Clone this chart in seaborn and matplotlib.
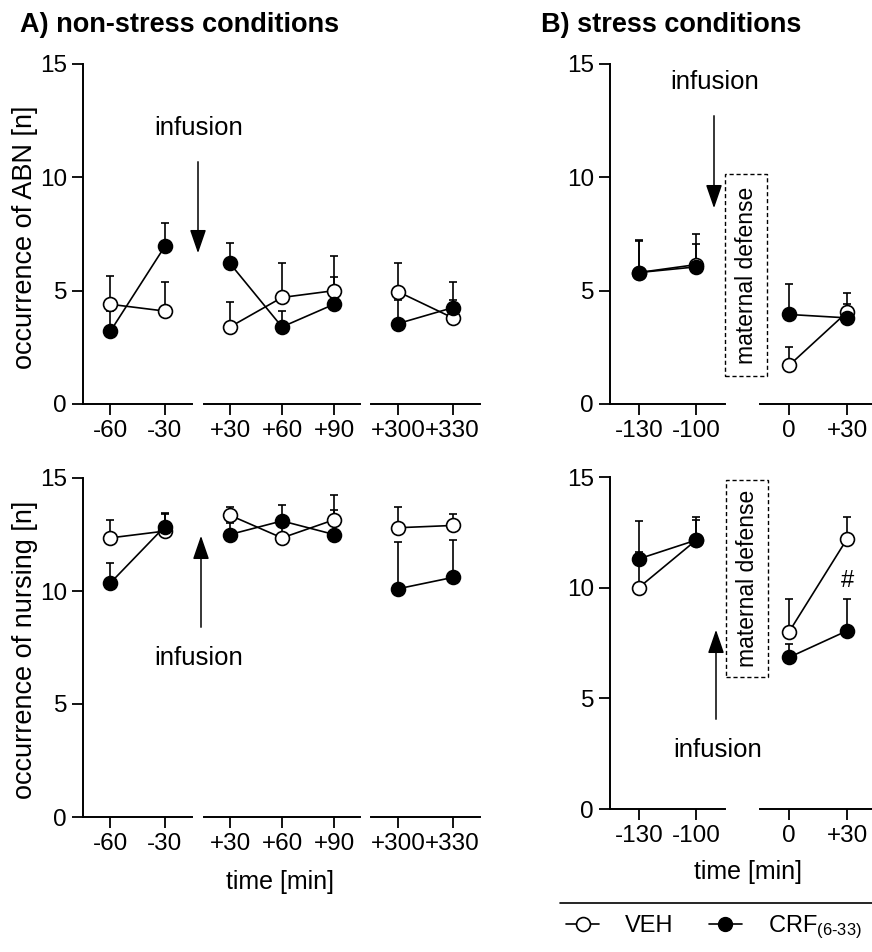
import numpy as np
import pandas as pd
import matplotlib.pyplot as plt
import seaborn as sns
from matplotlib.lines import Line2D
from matplotlib.patches import FancyArrowPatch, Rectangle

plt.switch_backend("Agg")

# --- data ---
a_times = [-60, -30, 30, 60, 90, 300, 330]
a_labels = ["-60", "-30", "+30", "+60", "+90", "+300", "+330"]

abn_a_veh = [4.4, 4.1, 3.4, 4.7, 5.0, 4.95, 3.8]
abn_a_veh_sem = [1.25, 1.3, 1.1, 1.5, 1.55, 1.25, 0.8]
abn_a_crf = [3.2, 6.95, 6.2, 3.4, 4.4, 3.55, 4.25]
abn_a_crf_sem = [0.9, 1.05, 0.9, 0.7, 1.2, 1.05, 1.15]

nurs_a_veh = [12.35, 12.65, 13.35, 12.35, 13.15, 12.8, 12.9]
nurs_a_veh_sem = [0.8, 0.8, 0.35, 0.5, 1.1, 0.9, 0.5]
nurs_a_crf = [10.35, 12.85, 12.5, 13.1, 12.5, 10.1, 10.6]
nurs_a_crf_sem = [0.9, 0.55, 0.5, 0.7, 1.1, 2.05, 1.65]

b_times = [-130, -100, 0, 30]
b_labels = ["-130", "-100", "0", "+30"]

abn_b_veh = [5.8, 6.15, 1.7, 4.05]
abn_b_veh_sem = [1.45, 1.35, 0.8, 0.85]
abn_b_crf = [5.8, 6.05, 3.95, 3.8]
abn_b_crf_sem = [1.4, 1.0, 1.35, 0.6]

nurs_b_veh = [10.0, 12.15, 8.0, 12.2]
nurs_b_veh_sem = [1.6, 1.05, 1.5, 1.0]
nurs_b_crf = [11.3, 12.15, 6.85, 8.05]
nurs_b_crf_sem = [1.7, 0.9, 0.6, 1.45]

sns.set_style("ticks")
plt.rcParams["font.family"] = ["Liberation Sans", "DejaVu Sans"]
plt.rcParams["mathtext.fontset"] = "custom"
plt.rcParams["mathtext.rm"] = "Liberation Sans"
plt.rcParams["mathtext.it"] = "Liberation Sans"
plt.rcParams["text.color"] = "black"
plt.rcParams["axes.labelcolor"] = "black"

W, H = 872, 952
fig = plt.figure(figsize=(W / 100, H / 100), dpi=100)

def fx(x):
    return x / W

def fy(y):
    return 1 - y / H

def make_axes(x0, x1, ytop, ybot, xlim, first):
    ax = fig.add_axes([fx(x0), fy(ybot), fx(x1 - x0), (ybot - ytop) / H])
    ax.set_xlim(*xlim)
    ax.set_ylim(0, 15)
    sns.despine(ax=ax, left=not first)
    for s in ax.spines.values():
        s.set_linewidth(1.4)
        s.set_color("black")
    ax.tick_params(direction="out", length=8, width=1.3, labelsize=17.5, colors="black")
    if first:
        ax.set_yticks([0, 5, 10, 15])
    else:
        ax.set_yticks([])
    ax.patch.set_alpha(0)
    return ax

def draw(ax, times, labels, veh, veh_sem, crf, crf_sem):
    lo, hi = ax.get_xlim()
    idx = [i for i, t in enumerate(times) if lo < t < hi]
    t = [times[i] for i in idx]
    ax.set_xticks(t)
    ax.set_xticklabels([labels[i] for i in idx])
    for vals, sems in [(veh, veh_sem), (crf, crf_sem)]:
        y = [vals[i] for i in idx]
        e = [sems[i] for i in idx]
        ax.errorbar(t, y, yerr=[np.zeros(len(e)), e], fmt="none", ecolor="black",
                    elinewidth=1.2, capsize=3, capthick=1.2, zorder=1)
    for vals, face, z in [(veh, "white", 3), (crf, "black", 4)]:
        df = pd.DataFrame({"time": t, "value": [vals[i] for i in idx]})
        sns.lineplot(data=df, x="time", y="value", ax=ax, color="black", linewidth=1.2,
                     marker="o", markersize=10, markerfacecolor=face,
                     markeredgecolor="black", markeredgewidth=1.2, zorder=z)
    ax.set_xlabel("")
    ax.set_ylabel("")

a_segs = [((-75, -15), 83, 192), ((15, 105), 204, 360), ((285, 345), 371, 480)]
b_segs = [((-145, -85), 610, 725), ((-15, 45), 760, 876)]

rows = [
    (a_segs, 64, 404, a_times, a_labels, abn_a_veh, abn_a_veh_sem, abn_a_crf, abn_a_crf_sem),
    (a_segs, 478, 817, a_times, a_labels, nurs_a_veh, nurs_a_veh_sem, nurs_a_crf, nurs_a_crf_sem),
    (b_segs, 64, 404, b_times, b_labels, abn_b_veh, abn_b_veh_sem, abn_b_crf, abn_b_crf_sem),
    (b_segs, 477, 809, b_times, b_labels, nurs_b_veh, nurs_b_veh_sem, nurs_b_crf, nurs_b_crf_sem),
]
panel_axes = []
for segs, ytop, ybot, times, labels, v, vs, c, cs in rows:
    axs = []
    for k, (xlim, x0, x1) in enumerate(segs):
        ax = make_axes(x0, x1, ytop, ybot, xlim, k == 0)
        draw(ax, times, labels, v, vs, c, cs)
        axs.append(ax)
    panel_axes.append(axs)

# significance mark
panel_axes[3][1].text(30, 10.3, "#", ha="center", va="center", fontsize=17)

# titles and labels
fig.text(fx(20), fy(25), "A) non-stress conditions", fontsize=19.5, fontweight="bold", va="center")
fig.text(fx(541), fy(25), "B) stress conditions", fontsize=19.5, fontweight="bold", va="center")
fig.text(fx(25), fy(237), "occurrence of ABN [n]", rotation=90, fontsize=19.5, ha="center", va="center")
fig.text(fx(25), fy(650), "occurrence of nursing [n]", rotation=90, fontsize=19.5, ha="center", va="center")
fig.text(fx(280), fy(882), "time [min]", fontsize=18, ha="center", va="center")
fig.text(fx(748), fy(872), "time [min]", fontsize=18, ha="center", va="center")

def arrow(x, y0, y1):
    fig.add_artist(FancyArrowPatch((fx(x), fy(y0)), (fx(x), fy(y1)), transform=fig.transFigure,
                                   arrowstyle="-|>,head_length=1.45,head_width=0.5",
                                   mutation_scale=10, color="black", lw=1.1))

def infusion(x, y):
    fig.text(fx(x), fy(y), "infusion", fontsize=18.5, ha="center", va="center")

infusion(199, 128)
arrow(198, 159, 256)
infusion(715, 82)
arrow(714, 113, 211)
infusion(199, 658)
arrow(201, 630, 533)
infusion(718, 750)
arrow(716, 722, 627)

def defense_box(x0, x1, y0, y1):
    fig.add_artist(Rectangle((fx(x0), fy(y1)), fx(x1 - x0), (y1 - y0) / H, transform=fig.transFigure,
                             fill=False, linestyle=(0, (3, 2)), lw=1.0, edgecolor="black"))
    fig.text(fx((x0 + x1) / 2), fy((y0 + y1) / 2), "maternal defense", rotation=90,
             fontsize=16.5, ha="center", va="center")

defense_box(725, 767, 174, 376)
defense_box(726, 768, 480, 677)

# legend
fig.add_artist(Line2D([fx(560), 1], [fy(903), fy(903)], transform=fig.transFigure, color="black", lw=1.2))
handles = [
    Line2D([], [], color="black", lw=1.2, marker="o", markersize=10, markerfacecolor="white",
           markeredgecolor="black", markeredgewidth=1.2, label="VEH"),
    Line2D([], [], color="black", lw=1.2, marker="o", markersize=10, markerfacecolor="black",
           markeredgecolor="black", label="CRF$_{(6\\text{-}33)}$"),
]
fig.legend(handles=handles, loc="center left", bbox_to_anchor=(fx(566), fy(927)), ncol=2, frameon=False,
           fontsize=17, handlelength=1.4, columnspacing=1.5, handletextpad=1.1, borderpad=0.0,
           borderaxespad=0.0)

fig.savefig("out.png", dpi=100, facecolor="white")
